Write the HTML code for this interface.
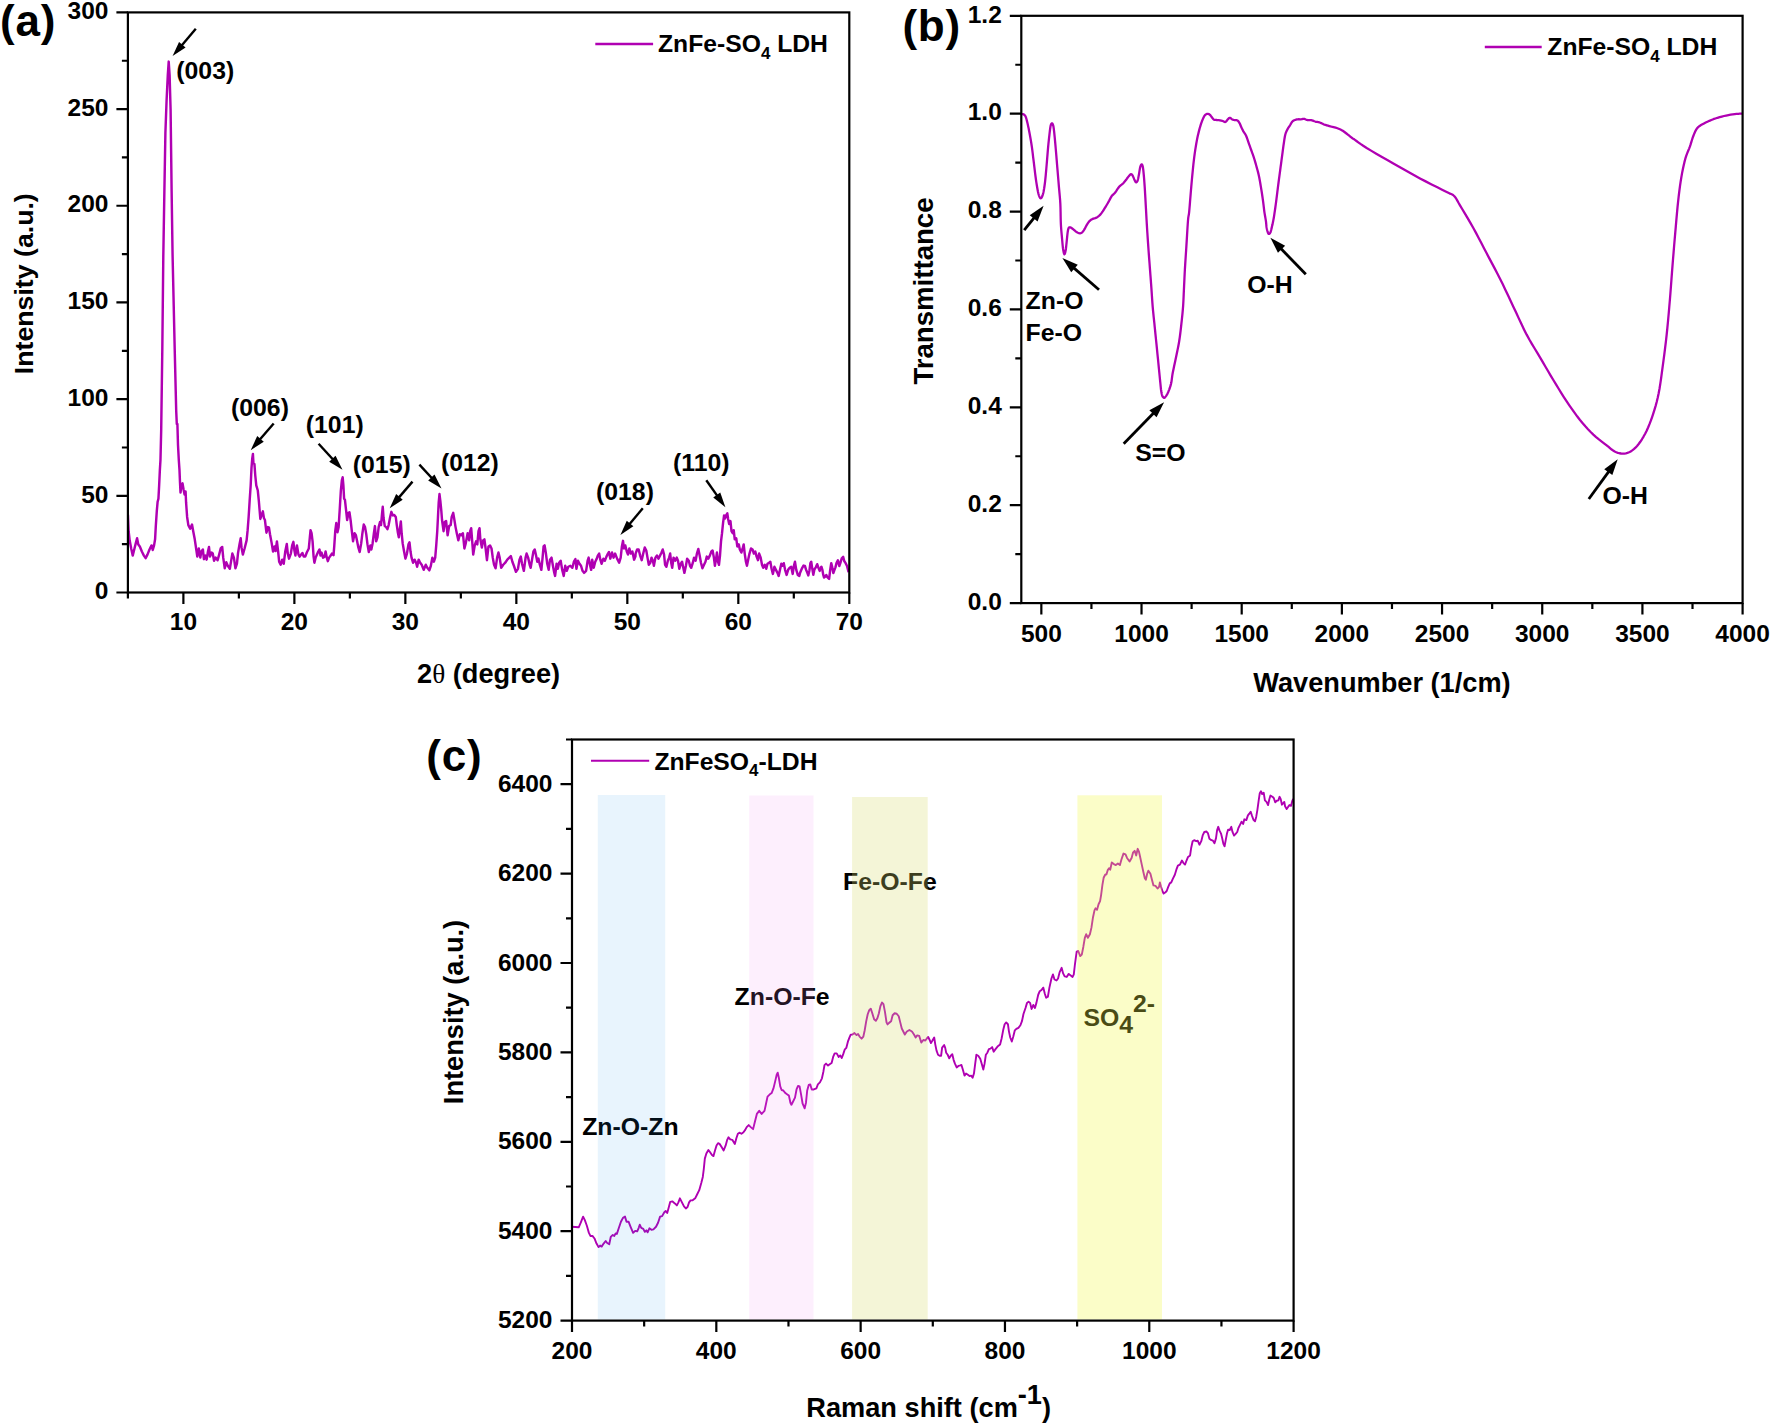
<!DOCTYPE html>
<html lang="en">
<head>
<meta charset="utf-8">
<title>ZnFe-SO4 LDH characterisation: XRD, FTIR and Raman</title>
<style>
html,body{margin:0;padding:0;background:#fff;}
svg{display:block;}
text{font-family:"Liberation Sans",sans-serif;font-weight:bold;fill:#000;}
</style>
</head>
<body>
<svg width="1770" height="1425" viewBox="0 0 1770 1425">
<rect width="1770" height="1425" fill="#fff"/>
<g id="panel-a">
<clipPath id="clip-a"><rect x="127.9" y="12.4" width="721.4" height="580.1"/></clipPath>
<path clip-path="url(#clip-a)" d="M127.93 514.92L128.64 531.19L129.66 540.34L131.19 548.47L132.71 555.59L134.24 549.49L135.76 543.39L137.08 538.31L138.31 544.41L139.83 546.44L141.86 551.53L143.9 555.59L145.63 558.14L147.46 554.58L149.49 549.49L151.53 545.42L152.75 550L154.07 545.42L155.08 539.32L155.8 526.1L156.81 510.85L157.63 501.7L158.44 498.64L159.15 485.42L159.86 470.17L160.47 460L161.2 430L162.3 350L163.3 256.3L164.4 190L165.4 132.7L166.6 100L167.8 75L168.7 61.6L169.6 75L170.6 110L171.6 190L172.6 256.3L174.7 349L176.2 410.8L176.8 424L177.4 424L178 445L178.8 460L179.49 470.17L180 482.37L180.51 492.54L181.32 486.44L182.54 483.39L183.56 489.49L184.58 494.58L185.59 491.53L186.1 502.71L187.12 516.95L188.34 525.08L190.17 528.64L192 524.58L193.22 531.19L194.75 539.32L196.27 549.49L197.29 556.61L198.81 548.47L200.34 557.63L201.36 551.53L202.88 549.49L203.9 559.15L205.42 555.59L206.64 559.66L207.97 551.53L208.98 546.95L210 556.61L211.53 552.54L212.75 553.56L214.07 560.68L215.59 557.63L217.63 560.17L219.15 554.58L220.68 548.47L222.2 546.95L223.22 557.63L224.75 568.31L226.27 562.2L227.8 565.76L229.83 568.81L231.36 559.66L232.37 553.56L233.9 557.63L235.42 568.31L236.95 563.73L237.97 553.56L239.49 544.41L240.71 538.31L241.53 547.46L242.85 554.58L244.58 548.47L246.61 540.34L247.63 530.17L248.64 516.95L249.66 500.68L250.68 485.42L251.49 468.14L252.2 458.98L252.92 453.9L253.42 463.05L254.44 464.07L255.25 475.25L256.27 485.42L257.8 490.51L258.81 500.68L260.34 518.98L261.56 514.92L262.88 511.36L263.9 517.97L264.92 520L266.44 532.71L267.97 527.12L268.98 527.63L270 534.24L271.53 542.37L273.05 551.53L274.58 546.44L275.59 551.02L276.92 541.36L278.14 551.53L279.15 561.7L280.68 564.75L282.2 559.66L283.73 563.73L285.25 551.53L286.78 543.9L287.8 553.56L289.02 558.64L290.85 553.56L292.17 545.42L293.39 541.86L294.41 550.51L295.42 555.59L296.95 545.42L298.48 554.58L299.66 556.61L301.19 554.58L302.41 553.05L303.73 556.61L305.25 556.61L306.78 552.54L308.81 548.47L309.83 537.29L310.54 530.17L311.56 533.22L312.58 541.36L313.59 556.61L314.41 562.71L315.63 557.63L316.95 554.58L318.27 551.53L319.49 549.49L320.51 555.59L321.53 552.54L323.05 557.63L324.58 556.61L325.59 551.53L326.81 557.63L327.83 561.19L329.15 557.63L330.68 555.59L331.9 553.56L333.53 555.09L334.24 546.44L335.25 531.19L336.27 523.05L337.49 532.2L338.61 527.12L339.83 507.8L340.85 490.51L341.86 480.34L342.68 477.29L343.39 485.42L344.1 498.64L344.92 499.66L345.93 508.81L347.15 520L348.47 512.88L349.49 512.37L350.71 521.02L351.83 531.19L353.05 541.36L354.58 533.22L355.9 535.25L357.12 541.36L358.34 547.46L359.66 552.03L361.19 543.39L362.41 533.22L363.73 524.58L365.05 527.12L366.27 534.24L367.49 544.41L368.81 552.03L370.34 545.42L371.36 549.49L372.58 543.39L373.9 533.22L374.92 526.1L376.14 541.36L377.46 537.29L378.68 527.12L380 522.03L381.02 525.08L382.03 513.9L382.75 506.78L383.56 517.97L384.78 526.1L386.1 527.12L387.42 529.15L388.64 525.08L390.17 516.95L391.39 511.86L392.71 515.42L394.24 514.92L395.76 516.95L396.78 525.08L397.8 532.2L398.81 537.29L399.83 529.15L400.85 521.53L401.66 533.22L402.68 543.39L403.9 550.51L405.42 558.64L406.95 553.56L408.47 544.41L409.49 542.37L410.51 551.53L411.53 557.63L413.05 562.71L414.58 559.66L416.1 562.71L417.12 566.78L418.64 559.66L420.17 562.71L421.7 564.75L423.73 569.83L425.76 564.75L427.29 567.8L429.32 570.34L430.85 565.76L432.37 557.63L433.9 561.7L435.22 557.63L436.24 545.42L437.25 531.19L437.97 516.95L438.68 502.71L439.49 494.07L440.31 500.68L441.32 510.85L442.03 520L443.56 531.19L444.78 522.03L446.1 521.02L447.63 535.25L449.15 526.1L450.68 525.08L451.7 516.95L453.22 512.88L454.24 518.98L455.56 527.12L456.78 533.22L458.31 540.34L459.83 534.24L461.36 535.25L462.88 533.22L464.41 548.47L465.73 543.39L466.1 541.36L467.63 533.22L469.15 540.34L470.17 531.19L471.19 528.14L472.2 541.36L473.22 554.58L474.75 545.42L476.07 541.36L477.29 544.41L478.51 531.19L479.53 528.14L480.34 539.32L481.86 547.46L483.19 540.34L484.41 539.32L485.63 548.47L486.95 560.17L488.47 546.44L490 545.42L491.53 548.47L492.75 557.63L494.07 564.75L495.59 568.31L497.12 557.63L498.44 552.54L499.66 557.63L501.19 567.8L503.22 564.75L505.25 562.71L507.29 559.66L509.32 557.63L510.85 556.1L512.37 561.7L513.9 565.76L515.93 571.86L517.97 568.81L519.49 559.66L520.81 556.61L522.03 563.73L523.86 570.85L525.59 557.63L526.61 553.56L528.14 557.63L529.66 564.75L530.68 567.8L532.2 558.64L533.42 551.53L534.75 549.49L536.07 555.59L537.29 561.7L538.51 558.64L539.83 564.75L541.36 569.83L542.58 557.63L543.59 546.44L544.61 545.42L545.93 553.56L547.25 563.73L548.68 569.83L550 559.66L551.53 557.63L552.75 564.75L554.07 571.86L555.09 575.93L556.61 563.73L557.83 568.81L559.15 562.71L560.68 560.68L562.2 569.83L563.73 575.93L565.25 565.76L566.78 570.85L568.31 566.78L570.34 565.76L572.37 567.8L573.9 561.7L575.42 559.15L576.44 568.81L577.97 560.68L579.49 563.73L581.02 565.76L582.54 570.85L584.07 572.88L586.1 570.85L587.63 560.68L588.64 557.63L590.17 565.76L591.19 569.83L592.2 559.66L593.73 567.8L595.25 561.7L596.78 558.64L597.8 555.59L599.12 553.56L600.34 559.66L601.56 563.73L603.39 558.64L604.92 560.68L606.44 556.61L607.97 553.56L608.98 552.03L610.31 558.64L612.03 552.54L613.56 557.63L615.09 553.56L617.12 558.64L619.15 562.71L620.68 557.63L621.9 546.44L623.02 540.85L623.93 548.47L625.25 545.42L626.78 551.53L628 554.58L629.32 548.47L630.85 553.56L632.37 551.53L634.1 559.66L635.42 556.61L635.59 553.56L637.12 549.49L638.64 549.49L640.17 555.59L641.69 560.17L643.22 553.56L644.75 547.46L646.27 550.51L647.49 557.63L648.81 564.75L650.34 562.71L651.56 557.63L652.88 560.68L653.9 565.76L655.42 557.63L656.95 555.59L658.47 558.64L660 555.59L661.53 552.54L662.75 549.49L664.07 554.58L665.08 564.75L666.41 566.78L667.83 560.68L669.15 557.63L670.17 553.56L671.19 562.71L672.2 567.8L673.53 557.63L675.25 560.68L676.78 557.63L678 560.68L679.32 568.81L680.85 563.73L682.07 561.7L683.08 566.78L684.41 572.88L685.93 565.76L687.15 558.64L688.78 560.68L690 565.76L691.22 567.8L692.85 562.71L694.07 557.63L695.59 560.68L696.92 553.56L698.34 548.98L699.66 555.59L700.98 562.71L702.41 568.31L704.03 564.75L705.46 561.7L706.78 556.61L708.31 558.64L709.83 555.59L711.36 551.53L712.58 550.51L713.9 557.63L714.92 565.76L715.93 559.66L716.95 552.54L717.97 561.7L718.98 564.75L720 555.59L721.02 541.36L722.03 533.22L723.05 523.05L724.07 515.42L725.09 518.47L726.1 515.42L727.32 513.39L728.14 518.98L729.15 524.07L730.47 521.02L731.49 531.19L732.71 533.22L733.73 530.17L734.75 539.32L736.27 538.31L737.29 546.44L738.81 544.41L739.83 549.49L741.36 552.54L742.68 548.47L743.7 544.41L744.71 553.56L745.93 561.7L746.95 565.76L748.17 559.66L749.49 553.56L751.02 548.47L752.54 549.49L753.86 553.56L755.29 551.53L756.61 556.61L757.93 560.17L759.15 553.56L760.68 557.63L762 564.75L763.22 567.8L764.75 564.75L766.27 568.81L767.49 563.73L769.12 562.71L770.34 561.7L771.56 568.81L772.88 573.9L774.41 566.78L775.93 569.83L777.46 572.88L778.68 575.93L780 569.83L781.32 563.73L782.54 565.76L783.76 563.22L785.09 569.83L786.61 574.92L788.14 569.83L789.66 567.8L791.19 566.78L792.71 573.9L793.93 565.76L794.95 561.7L796.27 569.83L797.8 574.92L799.32 575.93L800 572.98L802.11 568.07L803.51 565.61L804.91 565.96L805.96 569.47L807.16 572.28L808.28 575.44L809.47 570.18L810.39 563.16L811.23 561.75L812.07 567.37L813.33 574.74L814.39 569.47L815.79 567.37L817.19 564.21L818.25 567.37L819.65 570.88L820.49 568.07L821.4 566.67L822.46 570.18L823.16 574.39L824 577.54L825.26 576.49L826.32 575.09L827.37 577.19L829.12 578.95L830.18 570.18L831.23 563.16L832.28 567.37L833.33 572.98L834.39 570.18L835.44 567.37L836.49 563.16L837.89 560.35L839.3 565.96L840.35 563.16L841.75 558.25L843.16 556.84L844.21 561.05L845.61 563.16L847.02 565.96L848.07 570.18L848.56 572.28" fill="none" stroke="#b000b2" stroke-width="2.45" stroke-linejoin="round" stroke-linecap="butt"/>
<rect x="127.9" y="12.4" width="721.4" height="580.1" fill="none" stroke="#000" stroke-width="2.2"/>
<text x="183.39" y="630.4" font-size="24.5" text-anchor="middle">10</text>
<text x="294.38" y="630.4" font-size="24.5" text-anchor="middle">20</text>
<text x="405.36" y="630.4" font-size="24.5" text-anchor="middle">30</text>
<text x="516.35" y="630.4" font-size="24.5" text-anchor="middle">40</text>
<text x="627.33" y="630.4" font-size="24.5" text-anchor="middle">50</text>
<text x="738.32" y="630.4" font-size="24.5" text-anchor="middle">60</text>
<text x="849.3" y="630.4" font-size="24.5" text-anchor="middle">70</text>
<path d="M183.39 592.5V604M294.38 592.5V604M405.36 592.5V604M516.35 592.5V604M627.33 592.5V604M738.32 592.5V604M849.3 592.5V604M127.9 592.5V598.5M238.88 592.5V598.5M349.87 592.5V598.5M460.85 592.5V598.5M571.84 592.5V598.5M682.82 592.5V598.5M793.81 592.5V598.5" stroke="#000" stroke-width="2.2" fill="none"/>
<text x="108.4" y="599.2" font-size="24.5" text-anchor="end">0</text>
<text x="108.4" y="502.52" font-size="24.5" text-anchor="end">50</text>
<text x="108.4" y="405.83" font-size="24.5" text-anchor="end">100</text>
<text x="108.4" y="309.15" font-size="24.5" text-anchor="end">150</text>
<text x="108.4" y="212.47" font-size="24.5" text-anchor="end">200</text>
<text x="108.4" y="115.78" font-size="24.5" text-anchor="end">250</text>
<text x="108.4" y="19.1" font-size="24.5" text-anchor="end">300</text>
<path d="M127.9 592.5H116.4M127.9 495.82H116.4M127.9 399.13H116.4M127.9 302.45H116.4M127.9 205.77H116.4M127.9 109.08H116.4M127.9 12.4H116.4M127.9 544.16H121.9M127.9 447.48H121.9M127.9 350.79H121.9M127.9 254.11H121.9M127.9 157.43H121.9M127.9 60.74H121.9" stroke="#000" stroke-width="2.2" fill="none"/>
<text x="0" y="36.3" font-size="44" text-anchor="start" id="la" letter-spacing="0.8">(a)</text>
<text transform="translate(33 283.7) rotate(-90)" font-size="26.7" text-anchor="middle">Intensity (a.u.)</text>
<text x="488.6" y="683.1" font-size="27.2" text-anchor="middle">2<tspan font-family="'Liberation Serif',serif" font-weight="normal">θ</tspan> (degree)</text>
<line x1="595.3" y1="44" x2="653.1" y2="44" stroke="#b000b2" stroke-width="2.4"/>
<text x="658" y="52.4" font-size="24.7">ZnFe-SO<tspan font-size="17" dy="6.3">4</tspan><tspan dy="-6.3"> LDH</tspan></text>
<text x="176.3" y="79.2" font-size="24.8" text-anchor="start">(003)</text>
<text x="231" y="415.6" font-size="24.8" text-anchor="start">(006)</text>
<text x="305.8" y="432.5" font-size="24.8" text-anchor="start">(101)</text>
<text x="352.8" y="473.2" font-size="24.8" text-anchor="start">(015)</text>
<text x="440.9" y="471" font-size="24.8" text-anchor="start">(012)</text>
<text x="596" y="499.9" font-size="24.8" text-anchor="start">(018)</text>
<text x="673" y="470.8" font-size="24.8" text-anchor="start">(110)</text>
<line x1="195.8" y1="28.8" x2="181.67" y2="45.43" stroke="#000" stroke-width="2.4"/>
<polygon points="172.6,56.1 179.04,41.89 185.59,47.45" fill="#000"/>
<line x1="273.7" y1="423.5" x2="259.84" y2="439.59" stroke="#000" stroke-width="2.4"/>
<polygon points="250.7,450.2 257.23,436.03 263.75,441.64" fill="#000"/>
<line x1="318.6" y1="443.7" x2="333.05" y2="459.47" stroke="#000" stroke-width="2.4"/>
<polygon points="342.5,469.8 329.2,461.64 335.54,455.83" fill="#000"/>
<line x1="412.5" y1="481.6" x2="398.79" y2="497.65" stroke="#000" stroke-width="2.4"/>
<polygon points="389.7,508.3 396.17,494.1 402.71,499.69" fill="#000"/>
<line x1="419.4" y1="464.6" x2="432" y2="478.22" stroke="#000" stroke-width="2.4"/>
<polygon points="441.5,488.5 428.16,480.41 434.47,474.57" fill="#000"/>
<line x1="642.8" y1="508.3" x2="629.42" y2="524.19" stroke="#000" stroke-width="2.4"/>
<polygon points="620.4,534.9 626.77,520.66 633.35,526.2" fill="#000"/>
<line x1="706.3" y1="480.3" x2="717.31" y2="495.87" stroke="#000" stroke-width="2.4"/>
<polygon points="725.4,507.3 713.23,497.54 720.25,492.57" fill="#000"/>
</g>
<g id="panel-b">
<clipPath id="clip-b"><rect x="1021.3" y="15.8" width="721.3" height="587.3"/></clipPath>
<path clip-path="url(#clip-b)" d="M1021.69 114.1L1021.97 114.11L1022.36 114.09L1022.82 114.11L1023.29 114.2L1023.73 114.41L1024.14 114.69L1024.54 115.02L1024.95 115.46L1025.36 116.08L1025.76 116.95L1026.17 118.11L1026.58 119.51L1026.98 121.1L1027.39 122.81L1027.8 124.58L1028.2 126.42L1028.61 128.36L1029.02 130.41L1029.42 132.54L1029.83 134.75L1030.24 136.99L1030.64 139.29L1031.05 141.68L1031.46 144.22L1031.86 146.95L1032.27 149.94L1032.68 153.16L1033.08 156.52L1033.49 159.9L1033.9 163.22L1034.31 166.54L1034.71 169.92L1035.12 173.28L1035.53 176.5L1035.93 179.49L1036.35 182.31L1036.77 185.01L1037.19 187.52L1037.59 189.78L1037.97 191.7L1038.31 193.22L1038.63 194.41L1038.93 195.34L1039.21 196.1L1039.49 196.78L1039.75 197.36L1040 197.79L1040.23 198.09L1040.47 198.25L1040.71 198.31L1040.97 198.25L1041.22 198.09L1041.49 197.79L1041.75 197.36L1042.03 196.78L1042.33 196.07L1042.63 195.25L1042.94 194.27L1043.25 193.09L1043.56 191.7L1043.86 190.08L1044.17 188.29L1044.47 186.28L1044.78 184.03L1045.08 181.53L1045.39 178.69L1045.7 175.55L1046 172.2L1046.31 168.74L1046.61 165.25L1046.92 161.66L1047.22 157.88L1047.53 154.08L1047.83 150.38L1048.14 146.95L1048.45 143.73L1048.77 140.62L1049.09 137.7L1049.39 135.04L1049.66 132.71L1049.89 130.75L1050.09 129.12L1050.28 127.75L1050.47 126.59L1050.68 125.59L1050.91 124.76L1051.15 124.13L1051.39 123.69L1051.64 123.44L1051.9 123.36L1052.16 123.44L1052.43 123.69L1052.71 124.13L1052.97 124.76L1053.22 125.59L1053.44 126.56L1053.62 127.65L1053.81 128.97L1054.01 130.62L1054.24 132.71L1054.51 135.35L1054.81 138.46L1055.13 141.89L1055.45 145.45L1055.76 148.98L1056.07 152.51L1056.37 156.16L1056.68 159.87L1056.98 163.59L1057.29 167.29L1057.59 170.95L1057.9 174.61L1058.2 178.27L1058.51 181.93L1058.81 185.59L1059.14 189.23L1059.47 192.85L1059.8 196.48L1060.1 200.15L1060.34 203.9L1060.49 207.81L1060.58 211.88L1060.64 215.95L1060.72 219.89L1060.85 223.56L1061.05 226.97L1061.29 230.22L1061.56 233.29L1061.83 236.16L1062.07 238.81L1062.28 241.25L1062.47 243.48L1062.67 245.51L1062.87 247.34L1063.08 248.98L1063.33 250.51L1063.59 251.91L1063.86 253.08L1064.14 253.9L1064.41 254.27L1064.68 254.11L1064.95 253.49L1065.22 252.52L1065.48 251.32L1065.73 250L1065.95 248.48L1066.16 246.69L1066.35 244.74L1066.55 242.76L1066.75 240.85L1066.95 238.93L1067.15 236.93L1067.36 234.98L1067.56 233.19L1067.76 231.7L1067.95 230.53L1068.14 229.6L1068.32 228.87L1068.53 228.3L1068.78 227.83L1069.07 227.49L1069.38 227.32L1069.72 227.27L1070.1 227.31L1070.51 227.42L1070.96 227.62L1071.44 227.92L1071.96 228.3L1072.5 228.72L1073.05 229.15L1073.63 229.63L1074.23 230.16L1074.86 230.71L1075.48 231.24L1076.1 231.7L1076.72 232.1L1077.35 232.48L1077.97 232.81L1078.58 233.06L1079.15 233.22L1079.69 233.29L1080.21 233.29L1080.7 233.2L1081.19 233.01L1081.7 232.71L1082.2 232.31L1082.69 231.8L1083.18 231.19L1083.7 230.47L1084.24 229.66L1084.82 228.68L1085.42 227.52L1086.04 226.3L1086.67 225.11L1087.29 224.07L1087.9 223.16L1088.51 222.33L1089.12 221.57L1089.73 220.89L1090.34 220.31L1090.95 219.83L1091.56 219.47L1092.17 219.18L1092.78 218.93L1093.39 218.68L1094 218.46L1094.61 218.29L1095.22 218.13L1095.83 217.93L1096.44 217.66L1097.06 217.3L1097.69 216.89L1098.31 216.44L1098.91 215.94L1099.49 215.42L1100.02 214.91L1100.5 214.38L1100.97 213.82L1101.47 213.16L1102.03 212.37L1102.69 211.41L1103.41 210.29L1104.16 209.1L1104.9 207.91L1105.59 206.78L1106.24 205.74L1106.85 204.73L1107.45 203.74L1108.04 202.74L1108.64 201.69L1109.25 200.57L1109.86 199.37L1110.47 198.18L1111.09 197.07L1111.7 196.1L1112.31 195.35L1112.92 194.76L1113.53 194.25L1114.14 193.71L1114.75 193.05L1115.37 192.23L1116.02 191.3L1116.65 190.34L1117.25 189.43L1117.8 188.64L1118.25 188.02L1118.63 187.49L1118.99 187.03L1119.38 186.58L1119.83 186.1L1120.38 185.61L1120.98 185.13L1121.61 184.65L1122.26 184.13L1122.88 183.56L1123.49 182.92L1124.1 182.23L1124.71 181.51L1125.32 180.76L1125.93 180L1126.56 179.18L1127.2 178.3L1127.84 177.42L1128.44 176.6L1128.98 175.93L1129.46 175.39L1129.89 174.93L1130.29 174.57L1130.66 174.32L1131.02 174.2L1131.35 174.21L1131.64 174.32L1131.92 174.55L1132.21 174.92L1132.54 175.42L1132.93 176.16L1133.34 177.12L1133.78 178.17L1134.19 179.17L1134.58 180L1134.91 180.68L1135.22 181.3L1135.52 181.81L1135.81 182.17L1136.1 182.34L1136.41 182.31L1136.72 182.11L1137.03 181.75L1137.34 181.21L1137.63 180.51L1137.91 179.58L1138.18 178.42L1138.44 177.13L1138.69 175.76L1138.95 174.41L1139.2 172.98L1139.44 171.43L1139.68 169.88L1139.92 168.46L1140.17 167.29L1140.43 166.37L1140.7 165.62L1140.97 165.04L1141.23 164.64L1141.49 164.44L1141.75 164.41L1142 164.53L1142.24 164.86L1142.48 165.43L1142.71 166.27L1142.93 167.41L1143.13 168.83L1143.33 170.48L1143.53 172.35L1143.73 174.41L1143.93 176.66L1144.14 179.12L1144.34 181.78L1144.54 184.62L1144.75 187.63L1144.95 190.86L1145.15 194.33L1145.36 197.94L1145.56 201.62L1145.76 205.25L1145.96 208.79L1146.15 212.28L1146.34 215.84L1146.54 219.56L1146.78 223.56L1147.05 227.96L1147.35 232.7L1147.67 237.57L1147.99 242.39L1148.31 246.95L1148.61 251.21L1148.92 255.3L1149.22 259.3L1149.53 263.27L1149.83 267.29L1150.14 271.37L1150.45 275.48L1150.76 279.58L1151.06 283.63L1151.36 287.63L1151.63 291.57L1151.89 295.49L1152.15 299.35L1152.41 303.13L1152.7 306.8L1153.02 310.33L1153.35 313.73L1153.7 317.06L1154.05 320.36L1154.4 323.7L1154.74 327.06L1155.08 330.42L1155.42 333.78L1155.76 337.14L1156.1 340.5L1156.45 343.94L1156.8 347.46L1157.15 350.94L1157.49 354.29L1157.8 357.4L1158.08 360.2L1158.33 362.75L1158.57 365.17L1158.81 367.55L1159.05 370L1159.31 372.59L1159.57 375.24L1159.83 377.86L1160.07 380.35L1160.3 382.6L1160.5 384.61L1160.67 386.44L1160.84 388.11L1161.01 389.64L1161.2 391.05L1161.41 392.33L1161.63 393.48L1161.87 394.48L1162.12 395.36L1162.4 396.1L1162.71 396.7L1163.06 397.15L1163.42 397.47L1163.78 397.68L1164.1 397.8L1164.37 397.82L1164.61 397.74L1164.84 397.56L1165.1 397.28L1165.4 396.9L1165.77 396.42L1166.18 395.84L1166.62 395.16L1167.07 394.41L1167.5 393.6L1167.93 392.71L1168.36 391.73L1168.79 390.68L1169.21 389.6L1169.6 388.5L1169.97 387.41L1170.33 386.32L1170.68 385.18L1171 383.95L1171.3 382.6L1171.56 381.08L1171.79 379.42L1172.01 377.68L1172.24 375.92L1172.5 374.2L1172.8 372.57L1173.11 371L1173.44 369.4L1173.8 367.7L1174.2 365.8L1174.65 363.68L1175.14 361.41L1175.65 359.01L1176.18 356.52L1176.7 354L1177.22 351.46L1177.76 348.88L1178.29 346.22L1178.81 343.44L1179.3 340.5L1179.76 337.35L1180.2 334.02L1180.62 330.59L1181.02 327.12L1181.4 323.7L1181.77 320.32L1182.13 316.94L1182.47 313.56L1182.78 310.18L1183.05 306.8L1183.27 303.5L1183.44 300.26L1183.59 297L1183.73 293.61L1183.9 290L1184.08 286.15L1184.27 282.13L1184.46 277.96L1184.67 273.68L1184.9 269.3L1185.17 264.82L1185.46 260.23L1185.77 255.53L1186.09 250.75L1186.4 245.9L1186.72 240.68L1187.05 235.07L1187.39 229.54L1187.71 224.53L1188 220.5L1188.25 217.88L1188.48 216.37L1188.69 215.32L1188.91 214.09L1189.15 212.03L1189.43 208.99L1189.74 205.37L1190.05 201.45L1190.37 197.48L1190.68 193.73L1190.97 190.24L1191.26 186.84L1191.56 183.45L1191.87 180.01L1192.2 176.44L1192.57 172.66L1192.96 168.71L1193.36 164.73L1193.79 160.82L1194.24 157.12L1194.71 153.59L1195.22 150.15L1195.74 146.84L1196.26 143.73L1196.78 140.85L1197.29 138.24L1197.8 135.86L1198.31 133.67L1198.81 131.62L1199.32 129.66L1199.83 127.8L1200.34 126.07L1200.85 124.45L1201.36 122.94L1201.86 121.53L1202.38 120.18L1202.92 118.92L1203.44 117.77L1203.94 116.76L1204.41 115.93L1204.82 115.32L1205.2 114.89L1205.55 114.61L1205.89 114.4L1206.24 114.2L1206.58 114.03L1206.92 113.92L1207.26 113.86L1207.6 113.85L1207.97 113.9L1208.35 113.99L1208.76 114.14L1209.17 114.34L1209.59 114.59L1210 114.92L1210.41 115.33L1210.81 115.84L1211.22 116.39L1211.63 116.94L1212.03 117.46L1212.43 117.96L1212.82 118.47L1213.22 118.95L1213.63 119.38L1214.07 119.7L1214.54 119.88L1215.02 119.96L1215.53 119.97L1216.06 119.97L1216.61 120L1217.19 120.05L1217.79 120.1L1218.42 120.15L1219.04 120.22L1219.66 120.31L1220.28 120.42L1220.91 120.55L1221.53 120.69L1222.13 120.85L1222.71 121.02L1223.26 121.25L1223.79 121.55L1224.3 121.83L1224.79 122.02L1225.25 122.03L1225.7 121.82L1226.13 121.43L1226.54 120.94L1226.92 120.44L1227.29 120L1227.63 119.61L1227.94 119.22L1228.23 118.85L1228.52 118.52L1228.81 118.27L1229.11 118.09L1229.4 117.96L1229.69 117.89L1230 117.89L1230.34 117.97L1230.71 118.17L1231.09 118.49L1231.5 118.86L1231.93 119.22L1232.37 119.49L1232.85 119.68L1233.35 119.81L1233.87 119.92L1234.4 120.01L1234.92 120.1L1235.43 120.16L1235.96 120.18L1236.48 120.2L1236.98 120.29L1237.46 120.51L1237.9 120.85L1238.31 121.27L1238.7 121.79L1239.09 122.38L1239.49 123.05L1239.9 123.84L1240.31 124.76L1240.71 125.74L1241.12 126.71L1241.53 127.63L1241.92 128.47L1242.31 129.29L1242.71 130.09L1243.12 130.89L1243.56 131.7L1244.04 132.46L1244.54 133.18L1245.06 133.92L1245.59 134.75L1246.1 135.76L1246.61 136.99L1247.12 138.39L1247.63 139.89L1248.14 141.41L1248.64 142.88L1249.15 144.31L1249.66 145.73L1250.17 147.15L1250.68 148.58L1251.19 150L1251.7 151.4L1252.2 152.77L1252.71 154.16L1253.22 155.6L1253.73 157.12L1254.24 158.73L1254.75 160.42L1255.25 162.16L1255.76 163.94L1256.27 165.76L1256.79 167.61L1257.31 169.48L1257.83 171.4L1258.34 173.38L1258.81 175.42L1259.25 177.53L1259.66 179.69L1260.06 181.92L1260.45 184.22L1260.85 186.61L1261.26 189.14L1261.69 191.8L1262.1 194.52L1262.51 197.22L1262.88 199.83L1263.22 202.39L1263.53 204.93L1263.82 207.42L1264.11 209.81L1264.41 212.03L1264.73 214.1L1265.06 216.05L1265.38 217.87L1265.68 219.58L1265.93 221.19L1266.11 222.67L1266.23 224.02L1266.33 225.28L1266.45 226.47L1266.61 227.63L1266.84 228.79L1267.1 229.94L1267.38 231.02L1267.66 231.96L1267.93 232.71L1268.18 233.26L1268.41 233.64L1268.65 233.88L1268.89 233.97L1269.15 233.93L1269.44 233.77L1269.74 233.47L1270.05 233.03L1270.37 232.45L1270.68 231.7L1271 230.65L1271.35 229.3L1271.68 227.88L1271.97 226.57L1272.2 225.59L1272.33 225.13L1272.37 225.03L1272.38 225.04L1272.42 224.87L1272.54 224.24L1272.76 223.14L1273.04 221.76L1273.36 220.12L1273.71 218.23L1274.07 216.1L1274.44 213.68L1274.85 210.94L1275.26 208L1275.69 204.94L1276.1 201.86L1276.51 198.72L1276.92 195.45L1277.32 192.13L1277.73 188.82L1278.14 185.59L1278.54 182.48L1278.95 179.42L1279.36 176.39L1279.76 173.37L1280.17 170.34L1280.58 167.22L1281.01 164.04L1281.43 160.89L1281.83 157.88L1282.2 155.08L1282.54 152.55L1282.85 150.22L1283.14 148.03L1283.43 145.94L1283.73 143.9L1284.03 141.87L1284.31 139.9L1284.61 138.02L1284.92 136.28L1285.25 134.75L1285.62 133.45L1286.01 132.37L1286.41 131.43L1286.84 130.55L1287.29 129.66L1287.76 128.78L1288.27 127.96L1288.79 127.17L1289.31 126.39L1289.83 125.59L1290.34 124.74L1290.85 123.84L1291.36 122.97L1291.86 122.18L1292.37 121.53L1292.87 121.04L1293.37 120.69L1293.86 120.43L1294.37 120.21L1294.92 120L1295.49 119.79L1296.1 119.62L1296.72 119.48L1297.35 119.37L1297.97 119.29L1298.58 119.25L1299.19 119.26L1299.8 119.29L1300.41 119.31L1301.02 119.29L1301.63 119.19L1302.24 119.04L1302.85 118.88L1303.46 118.78L1304.07 118.78L1304.66 118.93L1305.24 119.19L1305.83 119.5L1306.44 119.79L1307.12 120L1307.87 120.09L1308.67 120.1L1309.51 120.09L1310.36 120.11L1311.19 120.2L1311.98 120.4L1312.77 120.66L1313.55 120.95L1314.38 121.25L1315.25 121.53L1316.22 121.77L1317.26 121.99L1318.33 122.22L1319.37 122.46L1320.34 122.75L1321.19 123.07L1321.94 123.43L1322.68 123.81L1323.48 124.2L1324.41 124.58L1325.51 124.95L1326.75 125.34L1328.04 125.72L1329.32 126.08L1330.51 126.41L1331.57 126.67L1332.57 126.88L1333.54 127.07L1334.53 127.31L1335.59 127.63L1336.77 128.03L1338.01 128.5L1339.28 129.02L1340.52 129.57L1341.7 130.17L1342.78 130.81L1343.8 131.5L1344.8 132.22L1345.78 132.97L1346.78 133.73L1347.83 134.54L1348.91 135.42L1349.98 136.29L1350.98 137.11L1351.86 137.8L1352.47 138.24L1352.81 138.46L1353.17 138.67L1353.78 139.06L1354.92 139.83L1356.47 140.96L1358.27 142.31L1360.47 143.91L1363.22 145.8L1366.67 148L1371.05 150.63L1376.26 153.69L1381.95 156.97L1387.76 160.29L1393.33 163.47L1398.67 166.51L1404 169.54L1409.33 172.55L1414.67 175.51L1420 178.4L1425.64 181.36L1431.59 184.4L1437.38 187.32L1442.56 189.92L1446.67 192L1449.41 193.33L1451.11 194.04L1452.18 194.48L1453.05 195.01L1454.13 196L1455.29 197.31L1456.24 198.71L1457.19 200.38L1458.37 202.53L1460 205.33L1462.19 208.97L1464.8 213.31L1467.64 218.1L1470.55 223.08L1473.33 228L1476 232.9L1478.67 237.94L1481.33 243.07L1484 248.22L1486.67 253.33L1489.33 258.36L1492 263.34L1494.67 268.34L1497.33 273.43L1500 278.67L1502.67 284.1L1505.33 289.67L1508 295.34L1510.67 301.02L1513.33 306.67L1516 312.35L1518.67 318.12L1521.33 323.85L1524 329.41L1526.67 334.67L1529.33 339.54L1532 344.12L1534.67 348.52L1537.33 352.89L1540 357.33L1542.67 361.89L1545.33 366.46L1548 371.03L1550.67 375.55L1553.33 380L1556 384.39L1558.67 388.76L1561.33 393.06L1564 397.26L1566.67 401.33L1569.33 405.3L1572 409.18L1574.67 412.95L1577.33 416.57L1580 420L1582.67 423.25L1585.33 426.35L1588 429.28L1590.67 432.05L1593.33 434.67L1596.09 437.13L1598.92 439.44L1601.72 441.59L1604.34 443.55L1606.67 445.33L1608.61 446.91L1610.25 448.31L1611.72 449.52L1613.15 450.57L1614.67 451.47L1616.27 452.22L1617.87 452.81L1619.47 453.25L1621.07 453.51L1622.67 453.6L1624.27 453.53L1625.87 453.31L1627.47 452.91L1629.07 452.3L1630.67 451.47L1632.27 450.41L1633.87 449.15L1635.47 447.67L1637.07 445.95L1638.67 444L1640.29 441.77L1641.93 439.28L1643.56 436.57L1645.15 433.68L1646.67 430.67L1648.11 427.5L1649.49 424.15L1650.83 420.65L1652.11 417.03L1653.33 413.33L1654.51 409.61L1655.63 405.85L1656.69 401.94L1657.71 397.8L1658.67 393.33L1659.55 388.51L1660.36 383.4L1661.13 378.04L1661.89 372.45L1662.67 366.67L1663.48 360.65L1664.31 354.38L1665.12 347.91L1665.92 341.32L1666.67 334.67L1667.37 327.9L1668.03 320.99L1668.66 313.99L1669.27 306.98L1669.87 300L1670.43 293.02L1670.97 286.01L1671.49 279.01L1672.01 272.1L1672.53 265.33L1673.06 258.76L1673.59 252.34L1674.11 246.01L1674.65 239.69L1675.2 233.33L1675.77 226.81L1676.34 220.15L1676.93 213.56L1677.53 207.22L1678.13 201.33L1678.74 195.94L1679.36 190.9L1679.98 186.17L1680.64 181.66L1681.33 177.33L1682.07 173.15L1682.85 169.16L1683.66 165.4L1684.49 161.89L1685.33 158.67L1686.22 155.82L1687.16 153.32L1688.1 151.05L1689.02 148.87L1689.87 146.67L1690.62 144.41L1691.3 142.18L1691.96 140.01L1692.62 137.94L1693.33 136L1694.06 134.17L1694.77 132.44L1695.52 130.82L1696.35 129.34L1697.33 128L1698.45 126.87L1699.68 125.92L1701.01 125.09L1702.45 124.3L1704 123.47L1705.67 122.58L1707.48 121.69L1709.38 120.82L1711.34 119.98L1713.33 119.2L1715.38 118.47L1717.5 117.78L1719.67 117.13L1721.85 116.54L1724 116L1726.18 115.52L1728.42 115.09L1730.63 114.72L1732.74 114.4L1734.67 114.13L1736.48 113.93L1738.24 113.8L1739.84 113.71L1741.17 113.65L1742.13 113.6" fill="none" stroke="#b000b2" stroke-width="2.3" stroke-linejoin="round"/>
<rect x="1021.3" y="15.8" width="721.3" height="587.3" fill="none" stroke="#000" stroke-width="2.2"/>
<text x="1041.34" y="642.1" font-size="24.5" text-anchor="middle">500</text>
<text x="1141.52" y="642.1" font-size="24.5" text-anchor="middle">1000</text>
<text x="1241.7" y="642.1" font-size="24.5" text-anchor="middle">1500</text>
<text x="1341.88" y="642.1" font-size="24.5" text-anchor="middle">2000</text>
<text x="1442.06" y="642.1" font-size="24.5" text-anchor="middle">2500</text>
<text x="1542.24" y="642.1" font-size="24.5" text-anchor="middle">3000</text>
<text x="1642.42" y="642.1" font-size="24.5" text-anchor="middle">3500</text>
<text x="1742.6" y="642.1" font-size="24.5" text-anchor="middle">4000</text>
<path d="M1041.34 603.1V614.6M1141.52 603.1V614.6M1241.7 603.1V614.6M1341.88 603.1V614.6M1442.06 603.1V614.6M1542.24 603.1V614.6M1642.42 603.1V614.6M1742.6 603.1V614.6M1091.43 603.1V609.1M1191.61 603.1V609.1M1291.79 603.1V609.1M1391.97 603.1V609.1M1492.15 603.1V609.1M1592.33 603.1V609.1M1692.51 603.1V609.1" stroke="#000" stroke-width="2.2" fill="none"/>
<text x="1001.8" y="609.8" font-size="24.5" text-anchor="end">0.0</text>
<text x="1001.8" y="511.92" font-size="24.5" text-anchor="end">0.2</text>
<text x="1001.8" y="414.03" font-size="24.5" text-anchor="end">0.4</text>
<text x="1001.8" y="316.15" font-size="24.5" text-anchor="end">0.6</text>
<text x="1001.8" y="218.27" font-size="24.5" text-anchor="end">0.8</text>
<text x="1001.8" y="120.38" font-size="24.5" text-anchor="end">1.0</text>
<text x="1001.8" y="22.5" font-size="24.5" text-anchor="end">1.2</text>
<path d="M1021.3 603.1H1009.8M1021.3 505.22H1009.8M1021.3 407.33H1009.8M1021.3 309.45H1009.8M1021.3 211.57H1009.8M1021.3 113.68H1009.8M1021.3 15.8H1009.8M1021.3 554.16H1015.3M1021.3 456.27H1015.3M1021.3 358.39H1015.3M1021.3 260.51H1015.3M1021.3 162.62H1015.3M1021.3 64.74H1015.3" stroke="#000" stroke-width="2.2" fill="none"/>
<text x="902.4" y="41" font-size="44" text-anchor="start" id="lb" letter-spacing="0.8">(b)</text>
<text transform="translate(932.9 291) rotate(-90)" font-size="27.6" text-anchor="middle">Transmittance</text>
<text x="1381.95" y="691.5" font-size="27.2" text-anchor="middle">Wavenumber (1/cm)</text>
<line x1="1484.8" y1="47" x2="1541.7" y2="47" stroke="#b000b2" stroke-width="2.4"/>
<text x="1547.3" y="55.4" font-size="24.7">ZnFe-SO<tspan font-size="17" dy="6.3">4</tspan><tspan dy="-6.3"> LDH</tspan></text>
<text x="1025.6" y="309.2" font-size="24.8" text-anchor="start">Zn-O</text>
<text x="1025.6" y="341.1" font-size="24.8" text-anchor="start">Fe-O</text>
<text x="1135.2" y="460.5" font-size="24.8" text-anchor="start">S=O</text>
<text x="1247.3" y="293.3" font-size="24.8" text-anchor="start">O-H</text>
<text x="1602.5" y="504.1" font-size="24.8" text-anchor="start">O-H</text>
<line x1="1024.2" y1="230.2" x2="1034.26" y2="217.54" stroke="#000" stroke-width="2.8"/>
<polygon points="1043.6,205.8 1037.56,221.44 1029.73,215.21" fill="#000"/>
<line x1="1099" y1="289.7" x2="1073.75" y2="267.9" stroke="#000" stroke-width="2.8"/>
<polygon points="1062.4,258.1 1077.78,264.77 1071.24,272.34" fill="#000"/>
<line x1="1123.7" y1="443.8" x2="1153.65" y2="412.96" stroke="#000" stroke-width="2.8"/>
<polygon points="1164.1,402.2 1156.54,417.16 1149.37,410.19" fill="#000"/>
<line x1="1305.8" y1="274.2" x2="1280.86" y2="248.55" stroke="#000" stroke-width="2.8"/>
<polygon points="1270.4,237.8 1285.14,245.78 1277.97,252.76" fill="#000"/>
<line x1="1588.8" y1="499" x2="1608.89" y2="471.34" stroke="#000" stroke-width="2.8"/>
<polygon points="1617.7,459.2 1612.34,475.08 1604.25,469.21" fill="#000"/>
</g>
<g id="panel-c">
<clipPath id="clip-c"><rect x="572" y="739.5" width="721.6" height="581.1"/></clipPath>
<path clip-path="url(#clip-c)" d="M572.12 1226.78L575.17 1226.98L578.73 1227.29L580.76 1222.71L583.1 1216.61L584.83 1220.17L586.86 1225.76L588.9 1232.88L590.42 1235.93L592.46 1235.93L594.49 1238.47L596.53 1243.56L598.56 1247.12L600.08 1245.59L601.61 1246.61L603.64 1243.56L605.68 1241.02L607.2 1243.05L609.24 1244.27L610.76 1236.95L612.8 1234.92L614.32 1235.93L615.64 1233.39L616.86 1233.9L618.9 1227.8L620.93 1221.7L622.97 1217.83L625 1216.61L626.53 1221.7L628.56 1221.7L630.59 1226.78L633.14 1232.88L635.17 1230.85L637.2 1231.36L638.73 1227.8L639.75 1224.75L641.27 1227.8L643.31 1228.81L644.83 1231.86L646.36 1230.34L647.58 1232.37L649.41 1228.31L651.44 1229.83L653.47 1229.32L656.02 1226.78L658.05 1222.71L660.09 1216.61L662.12 1216.1L664.15 1212.54L665.68 1211.02L667.2 1213.05L668.73 1207.46L670.25 1201.86L672.29 1201.36L674.83 1203.39L676.86 1205.42L678.39 1202.37L679.92 1198.31L681.95 1202.37L683.98 1206.44L685.81 1208.47L687.54 1206.95L689.07 1202.37L690.59 1200.34L692.63 1200.34L695.17 1198.31L697.2 1194.24L699.24 1190.17L701.27 1183.05L702.8 1176.95L703.81 1168.81L704.83 1158.64L706.36 1153.56L708.39 1150L709.92 1152.03L711.95 1155.08L713.48 1156.1L715 1150.51L716.53 1145.42L718.05 1143.19L719.58 1143.9L721.61 1146.95L723.64 1150.51L725.68 1145.42L727.2 1139.83L728.53 1137.29L730.25 1139.32L732.29 1139.83L734.83 1143.9L736.36 1138.31L737.88 1133.73L739.41 1132.71L741.44 1133.73L743.48 1132.2L745 1130.17L746.69 1127.12L748.73 1125.09L750.76 1127.12L753.1 1129.15L754.83 1122.03L756.86 1113.9L759.2 1110.85L761.64 1113.9L764.49 1110.85L766.02 1103.73L767.54 1096.61L769.58 1094.58L771.61 1093.05L773.44 1088.47L775.17 1081.36L776.7 1074.75L777.71 1072.71L778.93 1078.31L780.25 1086.44L781.58 1090L783.31 1090.51L785.34 1093.05L787.37 1094.58L788.9 1095.59L790.42 1102.71L791.44 1104.75L792.97 1101.7L795 1097.63L796.53 1089.49L798.05 1085.93L799.58 1086.44L801.1 1094.58L802.63 1103.73L804.66 1108.31L805.98 1102.71L807.2 1090.51L808.73 1084.92L810.25 1084.41L811.78 1089.49L813.81 1089.49L816.36 1088.47L817.88 1084.41L819.92 1082.37L821.95 1078.31L823.47 1071.19L824.49 1065.08L826.02 1063.56L828.05 1065.59L830.09 1064.07L831.61 1063.05L833.14 1056.95L834.66 1053.39L836.7 1053.39L838.73 1056.95L840.25 1055.42L841.78 1057.97L843.31 1053.9L844.83 1049.32L846.36 1047.8L847.88 1041.7L849.41 1037.63L850.73 1034.58L852.46 1034.58L854.49 1033.05L856.53 1035.08L858.05 1034.07L859.58 1036.61L861.61 1038.64L863.34 1036.61L864.66 1030.51L866.19 1021.36L867.71 1014.24L869.24 1010.17L870.76 1008.64L872.29 1013.22L874.12 1019.32L875.85 1020.85L877.37 1018.31L878.9 1013.22L880.42 1006.1L881.95 1002.54L883.48 1004.07L885 1012.2L886.53 1022.37L887.54 1024.41L889.07 1022.88L891.1 1021.36L892.63 1015.25L894.66 1013.22L896.7 1013.73L898.73 1016.27L900.25 1022.37L901.78 1028.47L903.31 1031.53L904.83 1034.58L906.86 1031.53L909.41 1030L911.95 1031.53L913.98 1034.58L915.68 1037.46L917.2 1035.42L919.24 1035.93L921.27 1042.54L923.31 1040L925.34 1040.51L926.86 1038.47L928.19 1036.95L929.41 1039.49L930.93 1043.05L932.46 1040.51L934.19 1037.46L935.31 1044.58L936.53 1050.68L938.05 1054.75L939.58 1055.76L941.1 1055.76L942.12 1047.63L944.15 1045.09L945.17 1047.63L946.19 1052.71L947.71 1054.75L949.24 1058.31L950.76 1055.76L952.29 1054.24L953.61 1059.83L954.83 1063.39L956.66 1067.46L958.39 1065.93L960.42 1065.42L961.44 1064.92L962.97 1070L964.49 1075.59L966.02 1073.56L967.54 1074.58L969.58 1076.1L971.1 1075.59L972.63 1077.63L973.95 1073.56L975.17 1063.9L976.39 1054.75L978.22 1055.76L980.25 1058.81L981.78 1063.9L983.31 1069.49L984.53 1063.9L985.85 1054.75L987.37 1052.71L988.9 1049.15L990.42 1048.64L992.15 1047.12L993.68 1051.7L995.51 1049.15L997.54 1046.61L1000.09 1044.58L1001.61 1038.47L1003.14 1030.34L1004.66 1024.24L1006.19 1022.41L1007.92 1024.24L1008.93 1031.36L1010.25 1037.46L1011.78 1041.53L1013.31 1036.44L1014.83 1030.34L1016.36 1028.81L1018.39 1027.8L1020.42 1025.25L1021.95 1021.19L1023.47 1014.07L1025.51 1007.97L1027.03 1002.88L1028.56 1001.66L1030.09 1002.88L1031.61 1008.98L1033.34 1004.92L1034.97 1007.97L1036.39 1002.88L1038.22 994.75L1039.75 991.19L1041.78 989.66L1043.31 987.63L1044.83 993.73L1046.15 997.8L1047.88 996.78L1049.41 987.63L1051.44 978.47L1052.97 974.41L1054.49 979.49L1056.53 980.51L1058.05 978.47L1059.58 972.37L1061.61 967.8L1063.14 973.39L1064.66 976.44L1066.7 976.95L1068.73 973.9L1070.76 975.42L1072.59 976.95L1073.81 974.41L1074.83 965.25L1076.05 956.1L1076.69 951.53L1078.22 951.02L1080.25 956.1L1081.78 954.58L1083.31 946.95L1084.83 937.8L1086.15 934.24L1087.88 937.8L1089.92 934.24L1091.44 927.63L1092.97 917.46L1094.49 910.34L1095.51 908.31L1097.03 909.83L1098.56 904.24L1100.08 901.19L1101.1 895.08L1102.42 884.92L1103.64 877.8L1105.17 874.75L1106.49 874.24L1107.71 870.17L1109.24 868.14L1110.25 869.66L1111.78 862.54L1113.81 864.07L1115.85 865.08L1117.88 863.56L1119.92 865.08L1121.44 859.49L1123.47 853.59L1125.51 854.41L1127.03 857.97L1129.58 861.53L1131.61 857.97L1133.14 852.37L1134.66 850.85L1136.19 855.42L1137.71 848.81L1139.03 851.86L1140.25 857.46L1141.78 864.58L1143.31 871.7L1144.83 878.31L1145.85 879.83L1147.17 873.73L1148.39 870.68L1150.42 873.73L1151.95 879.83L1153.47 885.42L1155.51 885.93L1157.54 888.47L1159.07 886.95L1159.88 882.37L1161.1 886.95L1162.63 891.53L1163.64 893.56L1165.17 892.54L1166.7 891.02L1168.22 886.95L1169.75 883.39L1171.27 882.37L1172.8 878.81L1174.83 874.75L1176.36 869.66L1177.88 865.59L1179.92 864.58L1181.95 860.51L1183.47 863.05L1185 864.58L1186.53 860.51L1188.05 856.95L1190.09 855.42L1191.1 848.31L1192.63 841.19L1194.15 840.17L1196.19 841.19L1197.71 840.68L1199.44 844.75L1201.27 841.19L1202.8 835.08L1204.32 832.03L1206.36 831.53L1207.88 833.05L1209.41 838.64L1211.44 840.17L1212.97 840.68L1214.49 843.22L1216.02 838.14L1217.06 830.4L1218.25 826.84L1219.43 830.4L1221.02 833.56L1222.2 838.3L1223.39 843.84L1224.58 846.21L1225.76 839.89L1226.95 833.56L1228.14 829.6L1229.72 830L1231.3 826.84L1232.49 831.98L1234.07 835.54L1235.65 833.95L1237.23 831.98L1238.42 828.02L1240 824.86L1241.58 821.69L1243.16 824.07L1244.35 819.32L1246.33 820.11L1247.91 815.37L1249.49 813.39L1250.68 811.81L1251.86 815.37L1253.45 819.72L1255.03 821.3L1256.21 816.95L1257.4 809.83L1258.59 801.13L1259.77 793.22L1260.96 791.24L1262.15 794.01L1263.73 792.82L1264.91 800.34L1266.5 801.92L1268.08 805.08L1269.27 799.55L1270.45 795.59L1272.43 796.78L1273.77 797.97L1275.2 802.32L1276.78 800.73L1278.36 800.34L1279.55 796.78L1280.73 799.15L1281.92 804.69L1283.27 803.11L1284.29 801.92L1285.08 806.27L1286.67 809.04L1288.25 806.67L1289.43 805.08L1291.02 805.88L1292.2 801.13L1293.23 798.76" fill="none" stroke="#b000b2" stroke-width="1.9" stroke-linejoin="round"/>
<text x="582.2" y="1134.6" font-size="24.8" text-anchor="start">Zn-O-Zn</text>
<text x="734.6" y="1004.8" font-size="24.8" text-anchor="start">Zn-O-Fe</text>
<text x="843" y="889.5" font-size="24.8" text-anchor="start">Fe-O-Fe</text>
<text x="1083.4" y="1025.5" font-size="24.8">SO<tspan dy="7.9">4</tspan><tspan dy="-21.3">2-</tspan></text>
<rect x="597.8" y="795" width="67.4" height="524.6" fill="#1e96eb" fill-opacity="0.1"/>
<rect x="749.2" y="795.5" width="64.3" height="524.1" fill="#ee8eee" fill-opacity="0.145"/>
<rect x="852.1" y="797" width="75.6" height="522.6" fill="#d8dc70" fill-opacity="0.28"/>
<rect x="1077.4" y="795.3" width="84.6" height="524.3" fill="#f2f848" fill-opacity="0.3"/>
<rect x="572" y="739.5" width="721.6" height="581.1" fill="none" stroke="#000" stroke-width="2.2"/>
<text x="572" y="1358.9" font-size="24.5" text-anchor="middle">200</text>
<text x="716.32" y="1358.9" font-size="24.5" text-anchor="middle">400</text>
<text x="860.64" y="1358.9" font-size="24.5" text-anchor="middle">600</text>
<text x="1004.96" y="1358.9" font-size="24.5" text-anchor="middle">800</text>
<text x="1149.28" y="1358.9" font-size="24.5" text-anchor="middle">1000</text>
<text x="1293.6" y="1358.9" font-size="24.5" text-anchor="middle">1200</text>
<path d="M572 1320.6V1332.1M716.32 1320.6V1332.1M860.64 1320.6V1332.1M1004.96 1320.6V1332.1M1149.28 1320.6V1332.1M1293.6 1320.6V1332.1M644.16 1320.6V1326.6M788.48 1320.6V1326.6M932.8 1320.6V1326.6M1077.12 1320.6V1326.6M1221.44 1320.6V1326.6" stroke="#000" stroke-width="2.2" fill="none"/>
<text x="552.5" y="1328.2" font-size="24.5" text-anchor="end">5200</text>
<text x="552.5" y="1238.8" font-size="24.5" text-anchor="end">5400</text>
<text x="552.5" y="1149.4" font-size="24.5" text-anchor="end">5600</text>
<text x="552.5" y="1060" font-size="24.5" text-anchor="end">5800</text>
<text x="552.5" y="970.6" font-size="24.5" text-anchor="end">6000</text>
<text x="552.5" y="881.2" font-size="24.5" text-anchor="end">6200</text>
<text x="552.5" y="791.8" font-size="24.5" text-anchor="end">6400</text>
<path d="M572 1320.6H560.5M572 1231.2H560.5M572 1141.8H560.5M572 1052.4H560.5M572 963H560.5M572 873.6H560.5M572 784.2H560.5M572 1275.9H566M572 1186.5H566M572 1097.1H566M572 1007.7H566M572 918.3H566M572 828.9H566M572 739.5H566" stroke="#000" stroke-width="2.2" fill="none"/>
<text x="426.3" y="771.4" font-size="44" text-anchor="start" id="lc" letter-spacing="0.8">(c)</text>
<text transform="translate(463.4 1012) rotate(-90)" font-size="27.2" text-anchor="middle">Intensity (a.u.)</text>
<text x="928.7" y="1416.7" font-size="27.2" text-anchor="middle">Raman shift (cm<tspan dy="-12.3">-1</tspan><tspan dy="12.3">)</tspan></text>
<line x1="591" y1="760.8" x2="649.2" y2="760.8" stroke="#b000b2" stroke-width="2.0"/>
<text x="654.4" y="769.7" font-size="24.7">ZnFeSO<tspan font-size="17" dy="6.3">4</tspan><tspan dy="-6.3">-LDH</tspan></text>
</g>
</svg>
</body>
</html>
